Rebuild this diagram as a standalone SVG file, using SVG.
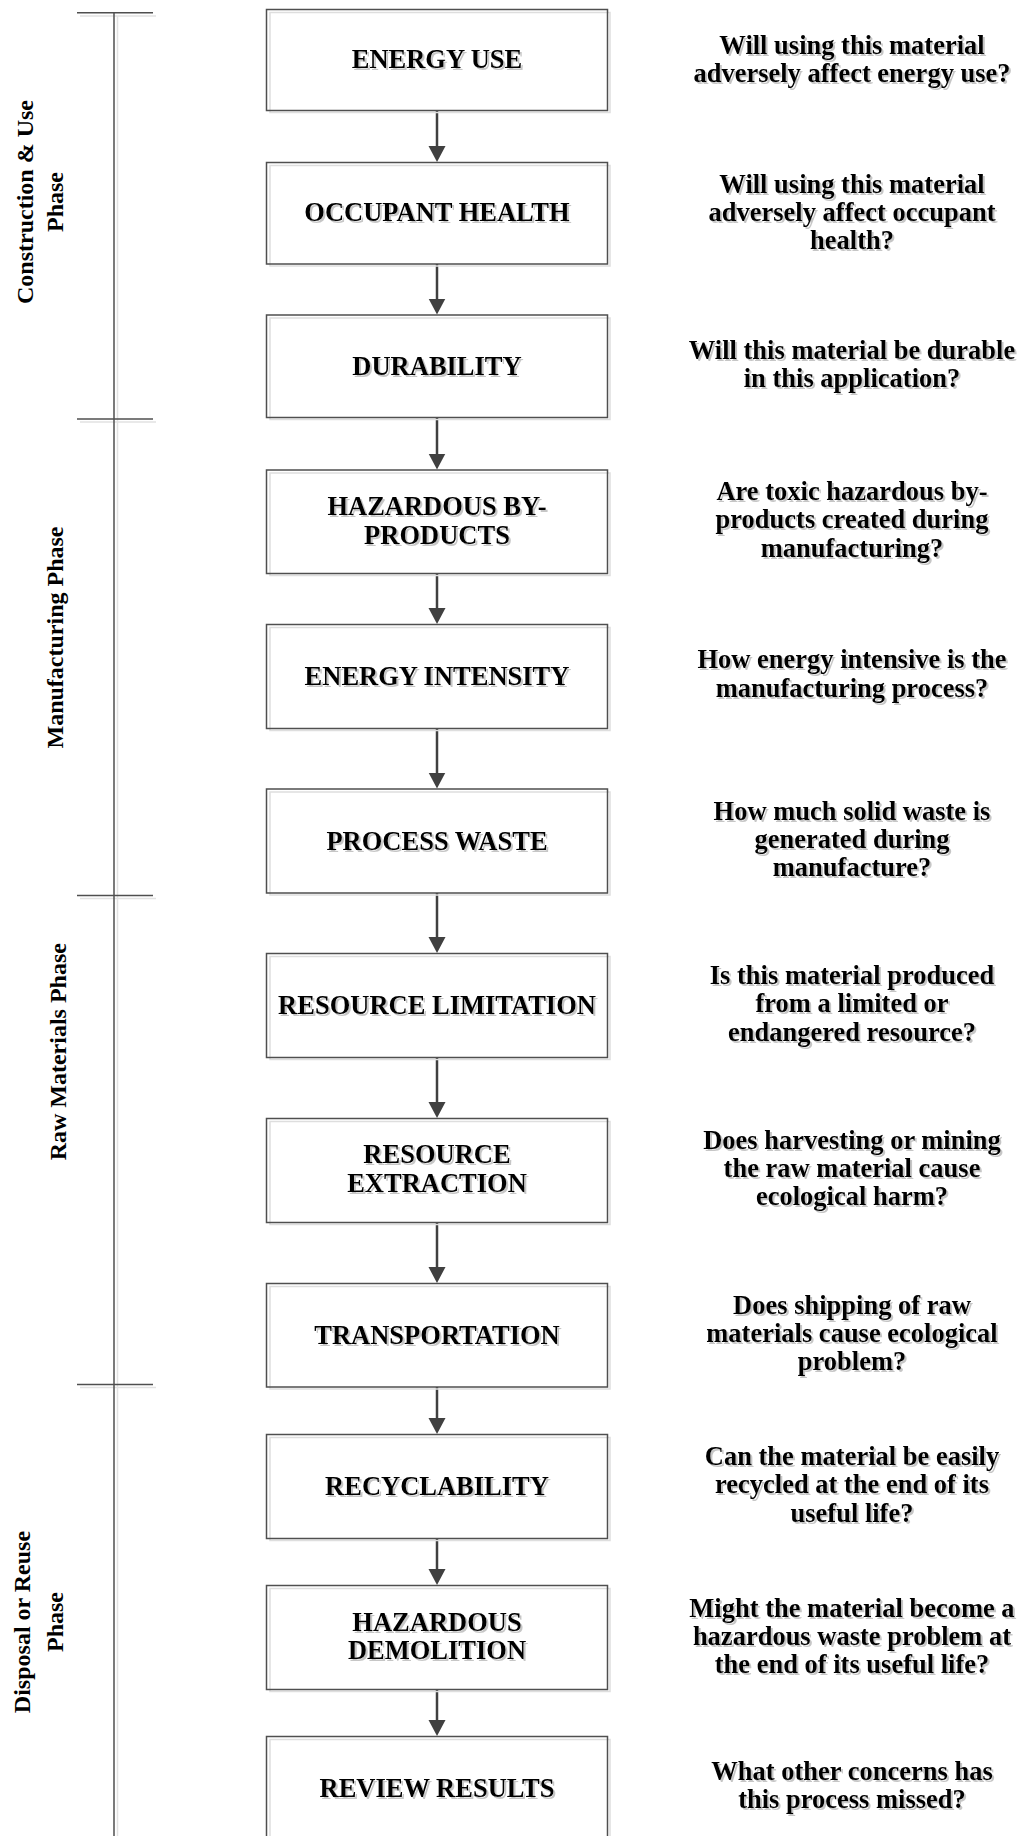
<svg xmlns="http://www.w3.org/2000/svg" width="1028" height="1836" viewBox="0 0 1028 1836">
  <defs>
    <style>
      text { font-family: "Liberation Serif", "Times New Roman", serif; font-weight: bold; fill: #000; }
      .lbl { font-size: 26.5px; text-anchor: middle; filter: url(#txtShadow); }
      .q { font-size: 26.5px; text-anchor: middle; filter: url(#txtShadow); }
      .ph { font-size: 24px; text-anchor: middle; }
      .box { fill: none; stroke: #4f4f4f; stroke-width: 1.5; }
      .box-sh { fill: none; stroke: #dedede; stroke-width: 1.5; }
      .edge { fill: none; stroke: #404040; stroke-width: 2.5; marker-end: url(#arrow); }
      .scale { stroke: #4f4f4f; stroke-width: 1.5; fill: none; }
      .scale-sh { stroke: #e2e2e2; stroke-width: 1.5; fill: none; }
    </style>
    <marker id="arrow" markerUnits="userSpaceOnUse" markerWidth="18" markerHeight="18" refX="8" refY="8.5" orient="auto">
      <path d="M0,0 L16,8.5 L0,17 Z" fill="#404040"/>
    </marker>
    <filter id="txtShadow" x="-5%" y="-30%" width="110%" height="160%">
      <feDropShadow dx="2" dy="2" stdDeviation="0.7" flood-color="#808080" flood-opacity="0.45"/>
    </filter>
  </defs>

  <rect width="1028" height="1836" fill="#fff"/>

  <!-- phase scale on the left -->
  <g id="phase-scale">
    <line class="scale-sh" x1="117.5" y1="16" x2="117.5" y2="1836"/>
    <line class="scale-sh" x1="80" y1="16" x2="156" y2="16"/>
    <line class="scale-sh" x1="80" y1="422" x2="156" y2="422"/>
    <line class="scale-sh" x1="80" y1="898.5" x2="156" y2="898.5"/>
    <line class="scale-sh" x1="80" y1="1387.5" x2="156" y2="1387.5"/>
    <line class="scale" x1="114" y1="12.7" x2="114" y2="1836"/>
    <line class="scale" x1="77" y1="12.7" x2="153" y2="12.7"/>
    <line class="scale" x1="77" y1="419" x2="153" y2="419"/>
    <line class="scale" x1="77" y1="895.5" x2="153" y2="895.5"/>
    <line class="scale" x1="77" y1="1384.5" x2="153" y2="1384.5"/>
  </g>

  <g id="phase-construction">
    <text class="ph" transform="translate(33,202) rotate(-90)">Construction &amp; Use</text>
    <text class="ph" transform="translate(63,202) rotate(-90)">Phase</text>
  </g>
  <g id="phase-manufacturing">
    <text class="ph" transform="translate(63,637.5) rotate(-90)">Manufacturing Phase</text>
  </g>
  <g id="phase-raw">
    <text class="ph" transform="translate(66,1051.7) rotate(-90)">Raw Materials Phase</text>
  </g>
  <g id="phase-disposal">
    <text class="ph" transform="translate(30,1622) rotate(-90)">Disposal or Reuse</text>
    <text class="ph" transform="translate(63,1622) rotate(-90)">Phase</text>
  </g>

  <!-- connectors -->
  <g id="connectors">
    <path class="edge" d="M437,110.5 V154"/>
    <path class="edge" d="M437,264 V306.5"/>
    <path class="edge" d="M437,417.5 V461.5"/>
    <path class="edge" d="M437,573.5 V616"/>
    <path class="edge" d="M437,728.5 V780.5"/>
    <path class="edge" d="M437,893 V945"/>
    <path class="edge" d="M437,1057.5 V1110"/>
    <path class="edge" d="M437,1222.5 V1275"/>
    <path class="edge" d="M437,1387 V1426"/>
    <path class="edge" d="M437,1538.5 V1577"/>
    <path class="edge" d="M437,1689.5 V1728"/>
  </g>

  <!-- process steps -->
  <g id="energy-use">
    <rect class="box-sh" x="270" y="12.5" width="340" height="100"/>
    <rect class="box" x="266.5" y="9.5" width="341" height="101"/>
    <text class="lbl" x="437" y="68.3">ENERGY USE</text>
  </g>
  <g id="occupant-health">
    <rect class="box-sh" x="270" y="165.5" width="340" height="100.5"/>
    <rect class="box" x="266.5" y="162.5" width="341" height="101.5"/>
    <text class="lbl" x="437" y="220.5">OCCUPANT HEALTH</text>
  </g>
  <g id="durability">
    <rect class="box-sh" x="270" y="318" width="340" height="101.5"/>
    <rect class="box" x="266.5" y="315" width="341" height="102.5"/>
    <text class="lbl" x="437" y="374.5">DURABILITY</text>
  </g>
  <g id="hazardous-by-products">
    <rect class="box-sh" x="270" y="473" width="340" height="102.5"/>
    <rect class="box" x="266.5" y="470" width="341" height="103.5"/>
    <text class="lbl" x="437" y="514.5">HAZARDOUS BY-</text>
    <text class="lbl" x="437" y="543.5">PRODUCTS</text>
  </g>
  <g id="energy-intensity">
    <rect class="box-sh" x="270" y="627.5" width="340" height="103"/>
    <rect class="box" x="266.5" y="624.5" width="341" height="104"/>
    <text class="lbl" x="437" y="685">ENERGY INTENSITY</text>
  </g>
  <g id="process-waste">
    <rect class="box-sh" x="270" y="792" width="340" height="103"/>
    <rect class="box" x="266.5" y="789" width="341" height="104"/>
    <text class="lbl" x="437" y="849.5">PROCESS WASTE</text>
  </g>
  <g id="resource-limitation">
    <rect class="box-sh" x="270" y="956.5" width="340" height="103"/>
    <rect class="box" x="266.5" y="953.5" width="341" height="104"/>
    <text class="lbl" x="437" y="1014">RESOURCE LIMITATION</text>
  </g>
  <g id="resource-extraction">
    <rect class="box-sh" x="270" y="1121.5" width="340" height="103"/>
    <rect class="box" x="266.5" y="1118.5" width="341" height="104"/>
    <text class="lbl" x="437" y="1163.3">RESOURCE</text>
    <text class="lbl" x="437" y="1192.3">EXTRACTION</text>
  </g>
  <g id="transportation">
    <rect class="box-sh" x="270" y="1286.5" width="340" height="102.5"/>
    <rect class="box" x="266.5" y="1283.5" width="341" height="103.5"/>
    <text class="lbl" x="437" y="1343.5">TRANSPORTATION</text>
  </g>
  <g id="recyclability">
    <rect class="box-sh" x="270" y="1437.5" width="340" height="103"/>
    <rect class="box" x="266.5" y="1434.5" width="341" height="104"/>
    <text class="lbl" x="437" y="1495">RECYCLABILITY</text>
  </g>
  <g id="hazardous-demolition">
    <rect class="box-sh" x="270" y="1588.5" width="340" height="103"/>
    <rect class="box" x="266.5" y="1585.5" width="341" height="104"/>
    <text class="lbl" x="437" y="1630.5">HAZARDOUS</text>
    <text class="lbl" x="437" y="1659.3">DEMOLITION</text>
  </g>
  <g id="review-results">
    <rect class="box-sh" x="270" y="1739.5" width="340" height="103"/>
    <rect class="box" x="266.5" y="1736.5" width="341" height="104"/>
    <text class="lbl" x="437" y="1796.7">REVIEW RESULTS</text>
  </g>

  <!-- guiding questions -->
  <g id="q-energy-use">
    <text class="q" x="852" y="53.5">Will using this material</text>
    <text class="q" x="852" y="81.8">adversely affect energy use?</text>
  </g>
  <g id="q-occupant-health">
    <text class="q" x="852" y="192.5">Will using this material</text>
    <text class="q" x="852" y="220.8">adversely affect occupant</text>
    <text class="q" x="852" y="249">health?</text>
  </g>
  <g id="q-durability">
    <text class="q" x="852" y="358.5">Will this material be durable</text>
    <text class="q" x="852" y="386.8">in this application?</text>
  </g>
  <g id="q-hazardous-by-products">
    <text class="q" x="852" y="500">Are toxic hazardous by-</text>
    <text class="q" x="852" y="528.3">products created during</text>
    <text class="q" x="852" y="556.6">manufacturing?</text>
  </g>
  <g id="q-energy-intensity">
    <text class="q" x="852" y="668.3">How energy intensive is the</text>
    <text class="q" x="852" y="696.6">manufacturing process?</text>
  </g>
  <g id="q-process-waste">
    <text class="q" x="852" y="819.5">How much solid waste is</text>
    <text class="q" x="852" y="847.8">generated during</text>
    <text class="q" x="852" y="876.1">manufacture?</text>
  </g>
  <g id="q-resource-limitation">
    <text class="q" x="852" y="984">Is this material produced</text>
    <text class="q" x="852" y="1012.4">from a limited or</text>
    <text class="q" x="852" y="1040.8">endangered resource?</text>
  </g>
  <g id="q-resource-extraction">
    <text class="q" x="852" y="1148.5">Does harvesting or mining</text>
    <text class="q" x="852" y="1176.8">the raw material cause</text>
    <text class="q" x="852" y="1205.1">ecological harm?</text>
  </g>
  <g id="q-transportation">
    <text class="q" x="852" y="1313.5">Does shipping of raw</text>
    <text class="q" x="852" y="1341.8">materials cause ecological</text>
    <text class="q" x="852" y="1370.1">problem?</text>
  </g>
  <g id="q-recyclability">
    <text class="q" x="852" y="1465">Can the material be easily</text>
    <text class="q" x="852" y="1493.3">recycled at the end of its</text>
    <text class="q" x="852" y="1521.6">useful life?</text>
  </g>
  <g id="q-hazardous-demolition">
    <text class="q" x="852" y="1616.7">Might the material become a</text>
    <text class="q" x="852" y="1645">hazardous waste problem at</text>
    <text class="q" x="852" y="1673.3">the end of its useful life?</text>
  </g>
  <g id="q-review-results">
    <text class="q" x="852" y="1780">What other concerns has</text>
    <text class="q" x="852" y="1808.3">this process missed?</text>
  </g>
</svg>
